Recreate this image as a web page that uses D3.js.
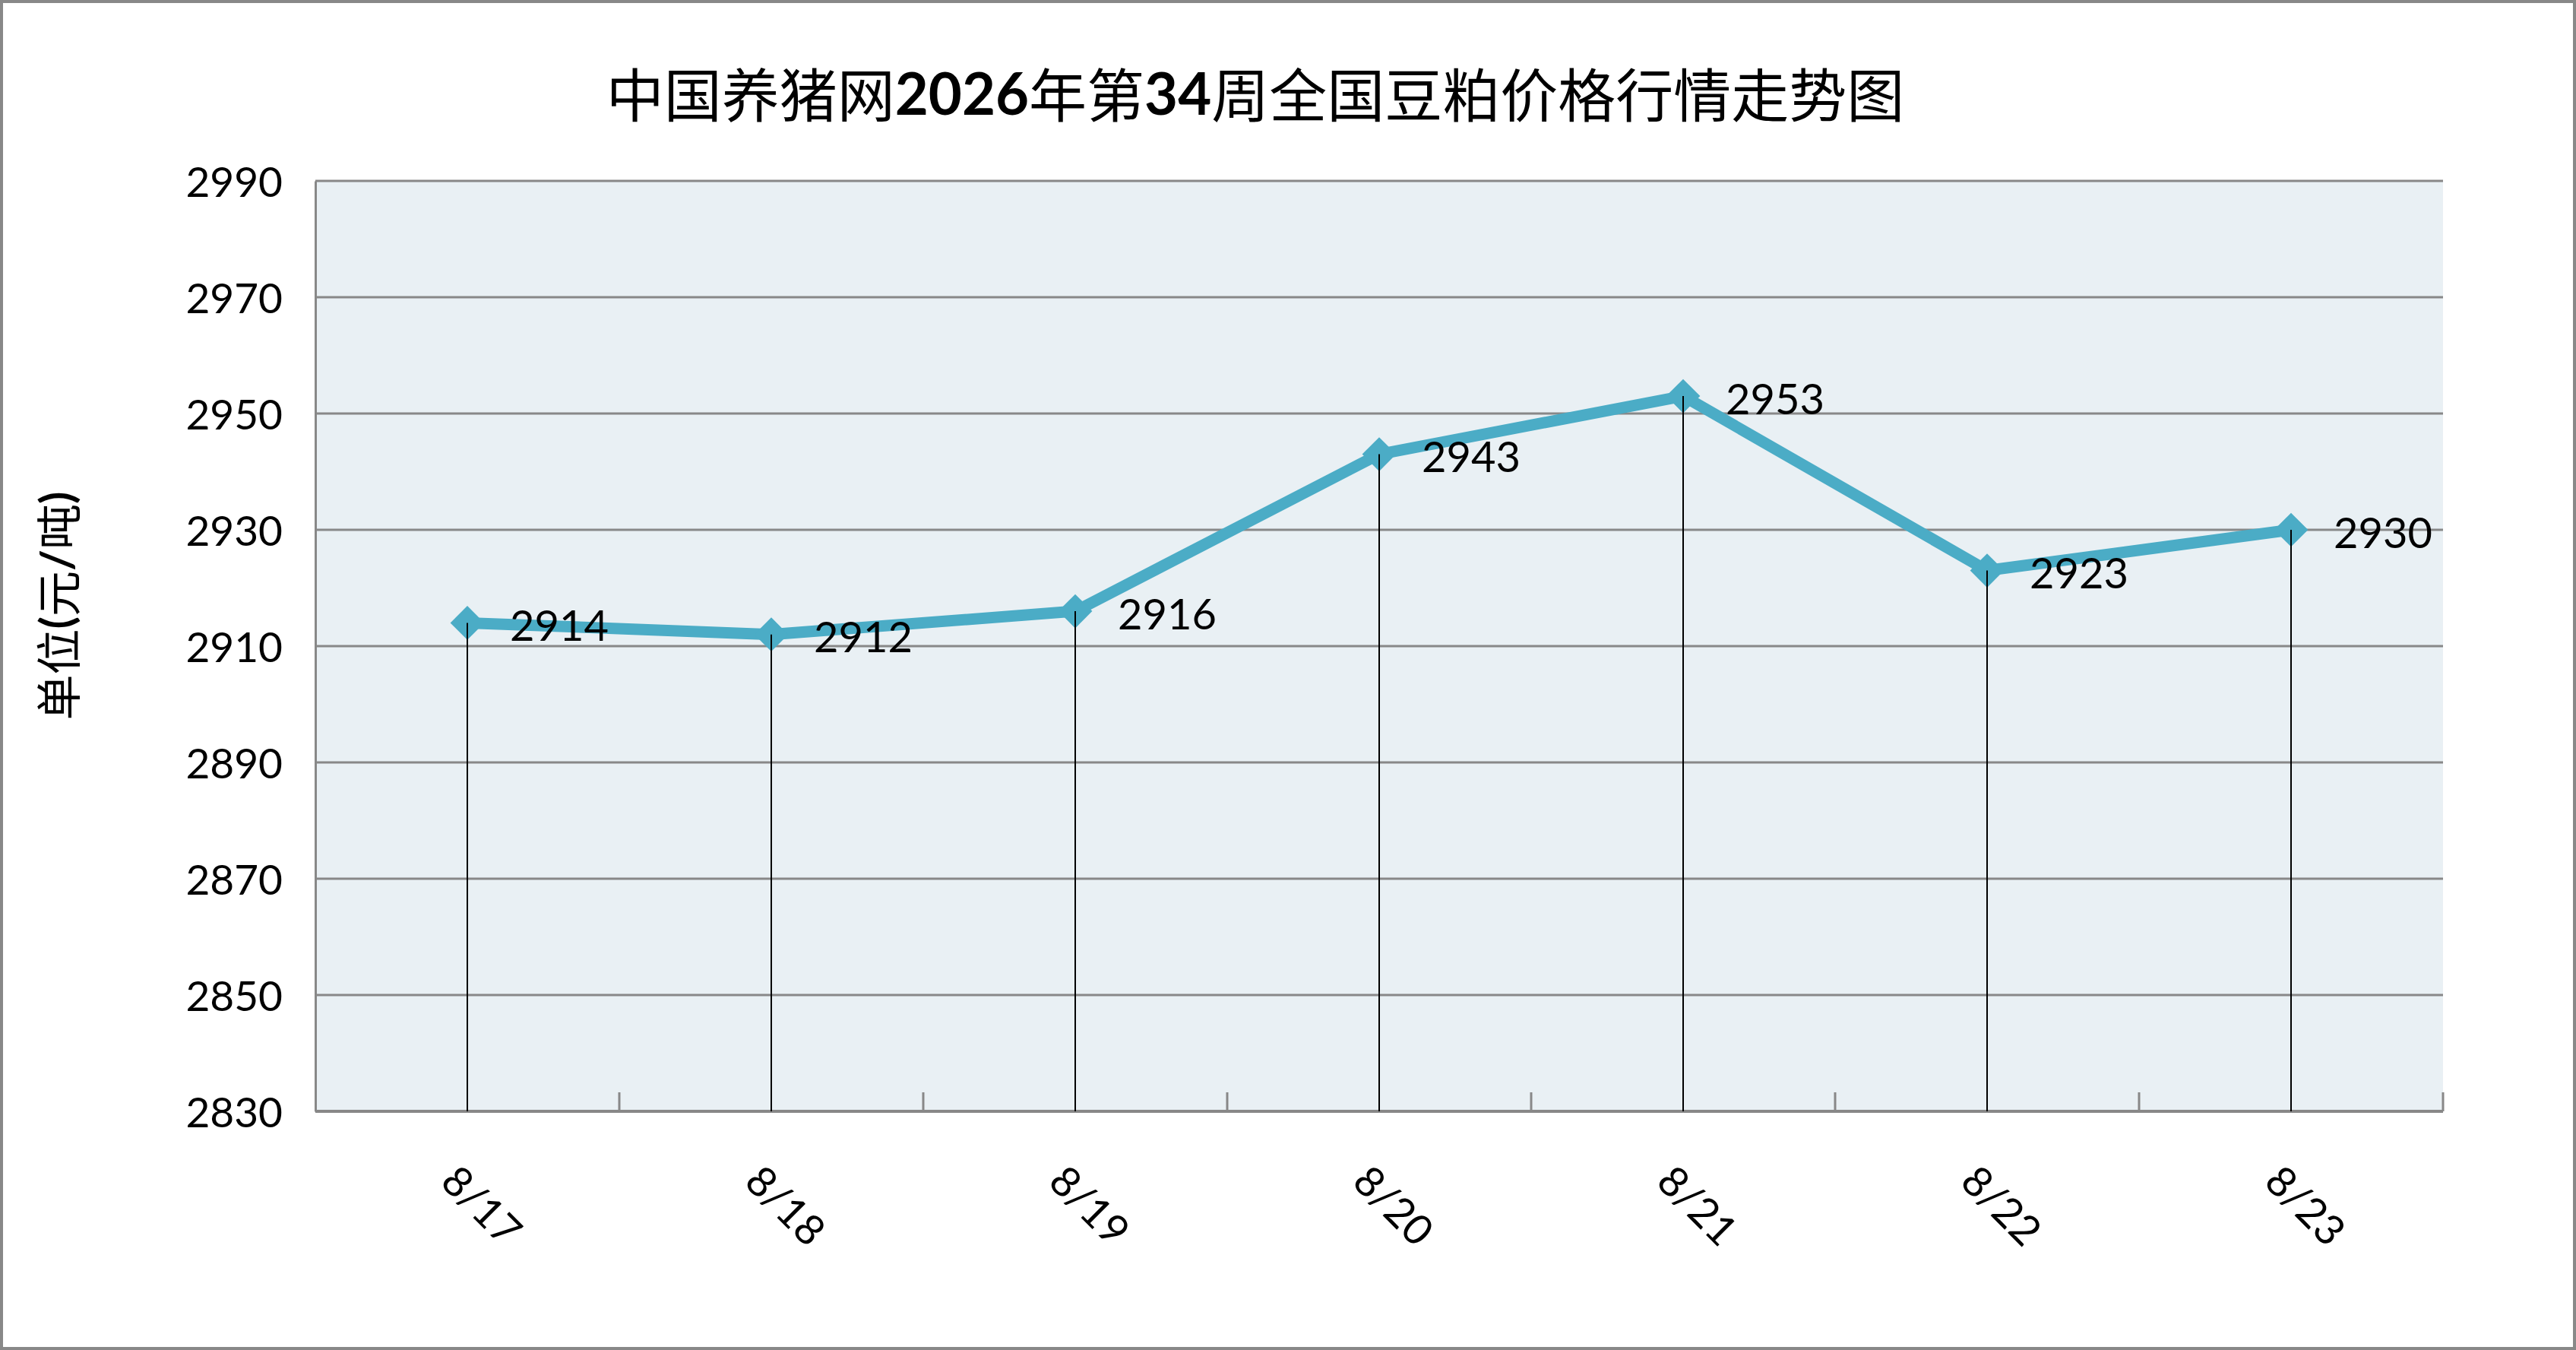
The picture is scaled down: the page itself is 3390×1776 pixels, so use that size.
<!DOCTYPE html>
<html>
<head>
<meta charset="utf-8">
<script src="https://cdn.jsdelivr.net/npm/d3@7"></script>
<style>
  html, body { margin: 0; padding: 0; background: #fff; }
  svg { display: block; }
</style>
</head>
<body>
<div id="chart"></div>
<script>
// Data
const categories = ['8/17', '8/18', '8/19', '8/20', '8/21', '8/22', '8/23'];
const prices     = [2914, 2912, 2916, 2943, 2953, 2923, 2930];
const yTicks     = [2830, 2850, 2870, 2890, 2910, 2930, 2950, 2970, 2990];
const titleParts = [
  { text: '中国养猪网', num: false },
  { text: '2026', num: true },
  { text: '年第', num: false },
  { text: '34', num: true },
  { text: '周全国豆粕价格行情走势图', num: false },
];
const yLabelParts = [
  { text: '单位', num: false },
  { text: '(', num: true },
  { text: '元', num: false },
  { text: '/', num: true },
  { text: '吨', num: false },
  { text: ')', num: true },
];

const width  = 3390;
const height = 1776;
const margin = { top: 238, right: 175, bottom: 314, left: 415 };
const innerW = width - margin.left - margin.right;
const innerH = height - margin.top - margin.bottom;

const cjkFont = '"Noto Sans CJK SC", sans-serif';
const numFont = 'Lato, "Open Sans", sans-serif';
const lineColor = '#4bacc6';
const gridColor = '#888888';

const svg = d3.select('#chart').append('svg')
  .attr('width', width)
  .attr('height', height);

// outer frame
svg.append('rect')
  .attr('x', 2).attr('y', 2)
  .attr('width', width - 4).attr('height', height - 4)
  .attr('fill', '#fff')
  .attr('stroke', gridColor)
  .attr('stroke-width', 4);

// title
const title = svg.append('text')
  .attr('x', 1652)
  .attr('y', 121)
  .attr('text-anchor', 'middle')
  .attr('dominant-baseline', 'central')
  .attr('font-size', 76)
  .attr('fill', '#000');
title.selectAll('tspan')
  .data(titleParts)
  .join('tspan')
  .attr('font-family', d => d.num ? numFont : cjkFont)
  .attr('font-weight', d => d.num ? 700 : 400)
  .text(d => d.text);

// y axis title
const yLabel = svg.append('text')
  .attr('transform', 'translate(73,797) rotate(-90)')
  .attr('text-anchor', 'middle')
  .attr('dominant-baseline', 'central')
  .attr('font-size', 60)
  .attr('fill', '#000');
yLabel.selectAll('tspan')
  .data(yLabelParts)
  .join('tspan')
  .attr('font-family', d => d.num ? numFont : cjkFont)
  .attr('font-weight', d => d.num ? 700 : 400)
  .text(d => d.text);

const g = svg.append('g')
  .attr('transform', `translate(${margin.left},${margin.top})`);

const x = d3.scaleBand()
  .domain(categories)
  .range([0, innerW]);

const y = d3.scaleLinear()
  .domain([yTicks[0], yTicks[yTicks.length - 1]])
  .range([innerH, 0]);

const cx = d => x(d) + x.bandwidth() / 2;

// plot area
g.append('rect')
  .attr('width', innerW)
  .attr('height', innerH)
  .attr('fill', '#e9f0f4');

// gridlines
g.append('g')
  .selectAll('line')
  .data(yTicks.slice(1))
  .join('line')
  .attr('x1', 0).attr('x2', innerW)
  .attr('y1', d => y(d)).attr('y2', d => y(d))
  .attr('stroke', gridColor)
  .attr('stroke-width', 3);

// y axis
const yAxis = g.append('g')
  .call(d3.axisLeft(y).tickValues(yTicks).tickSize(0).tickPadding(43).tickFormat(d3.format('d')));
yAxis.select('.domain')
  .attr('stroke', gridColor)
  .attr('stroke-width', 3);
yAxis.selectAll('text')
  .attr('font-family', numFont)
  .attr('font-size', 55)
  .attr('fill', '#000')
  .attr('dy', '0.38em');

// x axis: short ticks between categories, pointing up
const xAxis = g.append('g')
  .attr('transform', `translate(0,${innerH})`);
xAxis.selectAll('line.tick')
  .data(categories)
  .join('line')
  .attr('class', 'tick')
  .attr('x1', d => x(d) + x.bandwidth()).attr('x2', d => x(d) + x.bandwidth())
  .attr('y1', 0).attr('y2', -25)
  .attr('stroke', gridColor)
  .attr('stroke-width', 3);
xAxis.append('line')
  .attr('x1', 0).attr('x2', innerW)
  .attr('stroke', gridColor)
  .attr('stroke-width', 4);
xAxis.selectAll('text')
  .data(categories)
  .join('text')
  .attr('transform', d => `translate(${cx(d) + 20},123) rotate(45)`)
  .attr('text-anchor', 'middle')
  .attr('dominant-baseline', 'central')
  .attr('font-family', numFont)
  .attr('font-size', 55)
  .attr('fill', '#000')
  .text(d => d);

const points = categories.map((c, i) => ({ cat: c, value: prices[i] }));

// series line
const line = d3.line()
  .x(d => cx(d.cat))
  .y(d => y(d.value));

g.append('path')
  .datum(points)
  .attr('d', line)
  .attr('fill', 'none')
  .attr('stroke', lineColor)
  .attr('stroke-width', 15)
  .attr('stroke-linejoin', 'round');

// diamond markers (square turned 45deg)
g.append('g')
  .selectAll('path')
  .data(points)
  .join('path')
  .attr('transform', d => `translate(${cx(d.cat)},${y(d.value)}) rotate(45)`)
  .attr('d', d3.symbol().type(d3.symbolSquare).size(1000))
  .attr('fill', lineColor);

// drop lines
g.append('g')
  .selectAll('line')
  .data(points)
  .join('line')
  .attr('x1', d => cx(d.cat)).attr('x2', d => cx(d.cat))
  .attr('y1', d => y(d.value)).attr('y2', innerH)
  .attr('stroke', '#000')
  .attr('stroke-width', 2);

// data labels
g.append('g')
  .selectAll('text')
  .data(points)
  .join('text')
  .attr('x', d => cx(d.cat) + 56)
  .attr('y', d => y(d.value) + 2)
  .attr('dominant-baseline', 'central')
  .attr('font-family', numFont)
  .attr('font-size', 56)
  .attr('fill', '#000')
  .text(d => d.value);
</script>
</body>
</html>
